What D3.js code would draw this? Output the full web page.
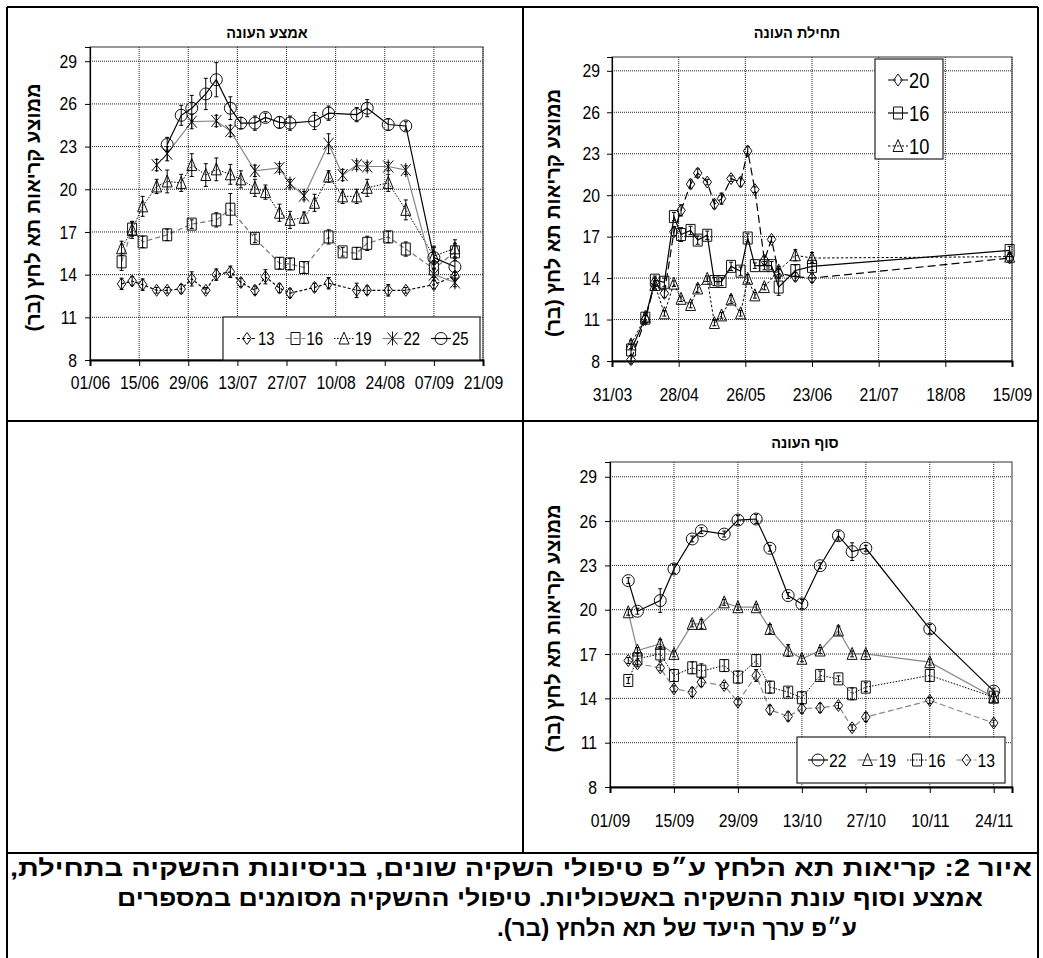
<!DOCTYPE html>
<html>
<head>
<meta charset="utf-8">
<script src="https://cdn.jsdelivr.net/npm/d3@7"></script>
<style>
  body { margin: 0; background: #fff; }
  svg text { font-family: "Liberation Sans", Arial, sans-serif; fill: #000; }
  svg text.heb { font-weight: bold; }
</style>
</head>
<body>
<svg id="fig" width="1043" height="958"></svg>
<script>
// ======= DATA =======
// each point: [date dd/mm, mean reading (bar), error]
const yTicks = [8, 11, 14, 17, 20, 23, 26, 29];

// mid season - "אמצע העונה"
const midTicks = ["01/06", "15/06", "29/06", "13/07", "27/07", "10/08", "24/08", "07/09", "21/09"];
const mid13 = [["10/06",13.35,0.4],["13/06",13.55,0.3],["16/06",13.3,0.4],["20/06",12.9,0.2],["23/06",12.9,0.2],["27/06",13.0,0.3],["30/06",13.7,0.5],["04/07",12.9,0.2],["07/07",14.0,0.4],["11/07",14.2,0.4],["14/07",13.45,0.3],["18/07",12.9,0.3],["21/07",13.85,0.5],["25/07",13.05,0.3],["28/07",12.7,0.3],["04/08",13.1,0.3],["08/08",13.4,0.4],["16/08",12.9,0.5],["19/08",12.9,0.3],["25/08",12.9,0.4],["30/08",12.9,0.2],["07/09",13.3,0.3],["13/09",13.9,0.3]];
const mid16 = [["10/06",14.9,0.6],["13/06",17.2,0.5],["16/06",16.3,0.4],["23/06",16.8,0.4],["30/06",17.55,0.3],["07/07",17.85,0.5],["11/07",18.6,1.1],["18/07",16.55,0.3],["25/07",14.8,0.4],["28/07",14.75,0.4],["01/08",14.5,0.4],["08/08",16.65,0.5],["12/08",15.6,0.3],["16/08",15.5,0.4],["19/08",16.2,0.5],["25/08",16.65,0.4],["30/08",15.8,0.5],["07/09",14.4,0.6],["13/09",15.6,0.6]];
const mid19 = [["10/06",15.85,0.5],["13/06",17.15,0.6],["16/06",18.8,0.7],["20/06",20.2,0.5],["23/06",20.55,0.8],["27/06",20.45,0.6],["30/06",21.7,0.8],["04/07",21.0,0.8],["07/07",21.4,0.8],["11/07",21.05,0.7],["14/07",20.7,0.6],["18/07",20.1,0.6],["21/07",19.8,0.5],["25/07",18.35,0.6],["28/07",17.85,0.6],["01/08",18.0,0.4],["04/08",19.05,0.6],["08/08",20.9,0.4],["12/08",19.5,0.5],["16/08",19.5,0.5],["19/08",20.1,0.6],["25/08",20.45,0.6],["30/08",18.55,0.7],["07/09",15.3,0.6],["13/09",15.85,0.6]];
const mid22 = [["20/06",21.7,0.4],["23/06",22.5,0.5],["30/06",24.75,0.5],["07/07",24.8,0.4],["11/07",24.1,0.4],["18/07",21.3,0.4],["25/07",21.5,0.3],["28/07",20.4,0.3],["01/08",19.55,0.3],["08/08",23.2,0.7],["12/08",21.0,0.4],["16/08",21.7,0.3],["19/08",21.6,0.3],["25/08",21.6,0.3],["30/08",21.35,0.3],["07/09",14.0,0.4],["13/09",13.45,0.3]];
const mid25 = [["23/06",23.15,0.5],["27/06",25.2,0.7],["30/06",25.7,0.9],["04/07",26.7,1.1],["07/07",27.7,1.2],["11/07",25.7,0.8],["14/07",24.65,0.4],["18/07",24.65,0.5],["21/07",25.05,0.3],["25/07",24.7,0.4],["28/07",24.65,0.5],["04/08",24.8,0.6],["08/08",25.35,0.5],["16/08",25.25,0.5],["19/08",25.7,0.6],["25/08",24.55,0.4],["30/08",24.45,0.3],["07/09",15.2,0.8],["13/09",14.55,0.6]];

// early season - "תחילת העונה"
const earlyTicks = ["31/03", "28/04", "26/05", "23/06", "21/07", "18/08", "15/09"];
const early20 = [["08/04",8.1,0.3],["14/04",11.0,0.3],["18/04",13.7,0.3],["22/04",12.9,0.3],["26/04",17.35,0.3],["29/04",18.9,0.4],["03/05",20.8,0.3],["06/05",21.6,0.3],["10/05",20.95,0.2],["13/05",19.35,0.3],["16/05",19.75,0.4],["20/05",21.2,0.2],["24/05",20.95,0.3],["27/05",23.2,0.3],["30/05",20.4,0.2],["03/06",15.3,0.3],["06/06",16.8,0.2],["09/06",14.35,0.3],["16/06",14.1,0.3],["23/06",14.0,0.3],["14/09",15.45,0.3]];
const early16 = [["08/04",8.8,0.4],["14/04",11.1,0.3],["18/04",13.85,0.3],["22/04",13.7,0.3],["26/04",18.45,0.3],["29/04",17.15,0.5],["03/05",17.45,0.3],["06/05",16.75,0.3],["10/05",17.1,0.3],["13/05",13.75,0.3],["16/05",13.75,0.3],["20/05",14.85,0.3],["24/05",14.5,0.3],["27/05",16.9,0.3],["30/05",14.9,0.2],["03/06",14.9,0.3],["06/06",14.9,0.3],["09/06",13.35,0.6],["16/06",14.55,0.4],["23/06",14.85,0.3],["14/09",16.0,0.3]];
const early10 = [["08/04",9.2,0.3],["14/04",11.2,0.3],["18/04",13.5,0.3],["22/04",11.45,0.2],["26/04",13.6,0.2],["29/04",12.5,0.2],["03/05",12.05,0.2],["06/05",13.25,0.3],["10/05",13.95,0.2],["13/05",10.75,0.2],["16/05",11.3,0.2],["20/05",12.45,0.3],["24/05",11.45,0.2],["27/05",13.95,0.3],["30/05",12.75,0.2],["03/06",13.35,0.2],["09/06",14.55,0.3],["16/06",15.65,0.4],["23/06",15.45,0.4],["14/09",15.55,0.3]];

// late season - "סוף העונה"
const lateTicks = ["01/09", "15/09", "29/09", "13/10", "27/10", "10/11", "24/11"];
const late22 = [["05/09",21.97,0.2],["07/09",19.9,0.2],["12/09",20.62,0.8],["15/09",22.76,0.3],["19/09",24.79,0.2],["21/09",25.35,0.2],["26/09",25.12,0.2],["29/09",26.07,0.3],["03/10",26.14,0.3],["06/10",24.16,0.2],["10/10",20.96,0.2],["13/10",20.39,0.3],["17/10",22.98,0.2],["21/10",25.01,0.3],["24/10",23.93,0.6],["27/10",24.16,0.2],["10/11",18.7,0.3],["24/11",14.49,0.2]];
const late19 = [["05/09",19.83,0.2],["07/09",17.24,0.2],["12/09",17.69,0.3],["15/09",17.01,0.2],["19/09",19.04,0.2],["21/09",19.04,0.3],["26/09",20.5,0.2],["29/09",20.17,0.2],["03/10",20.17,0.2],["06/10",18.7,0.3],["10/10",17.24,0.4],["13/10",16.68,0.2],["17/10",17.24,0.2],["21/10",18.59,0.3],["24/10",17.01,0.2],["27/10",17.01,0.2],["10/11",16.45,0.2],["24/11",14.08,0.2]];
const late16 = [["05/09",15.21,0.2],["07/09",16.68,0.4],["12/09",17.01,0.5],["15/09",15.55,0.4],["19/09",16.07,0.4],["21/09",15.84,0.5],["26/09",16.22,0.4],["29/09",15.44,0.4],["03/10",16.56,0.4],["06/10",14.76,0.4],["10/10",14.42,0.3],["13/10",14.04,0.4],["17/10",15.55,0.3],["21/10",15.32,0.2],["24/10",14.31,0.4],["27/10",14.76,0.3],["10/11",15.55,0.4],["24/11",14.08,0.3]];
const late13 = [["05/09",16.56,0.2],["07/09",16.34,0.2],["12/09",16.07,0.2],["15/09",14.65,0.2],["19/09",14.42,0.3],["21/09",15.1,0.3],["26/09",14.87,0.2],["29/09",13.75,0.2],["03/10",15.55,0.4],["06/10",13.23,0.3],["10/10",12.78,0.3],["13/10",13.3,0.3],["17/10",13.36,0.3],["21/10",13.52,0.2],["24/10",12.01,0.2],["27/10",12.73,0.3],["10/11",13.86,0.2],["24/11",12.33,0.2]];

const yTitle = "ממוצע קריאות תא לחץ (בר)";
const caption = [
  "איור 2: קריאות תא הלחץ ע״פ טיפולי השקיה שונים, בניסיונות ההשקיה בתחילת,",
  "אמצע וסוף עונת ההשקיה באשכוליות. טיפולי ההשקיה מסומנים במספרים",
  "ע״פ ערך היעד של תא הלחץ (בר)."
];

// ======= HELPERS =======
const parseDay = s => d3.timeParse("%d/%m/%Y")(s + "/2009");
const fmt = d3.timeFormat("%d/%m");
const svg = d3.select("#fig");
const NARROW = 0.83;   // no narrow font installed, squeeze the regular one

function narrow(sel) {
  sel.each(function () {
    const t = d3.select(this);
    const x0 = +(t.attr("x") || 0);
    t.attr("x", x0 / NARROW).attr("transform", `scale(${NARROW},1)`);
  });
}

// marker outlines, centred on 0,0
function markerPath(shape) {
  switch (shape) {
    case "diamond": return "M0,-6L4.3,0L0,6L-4.3,0Z";
    case "square": return "M-4.5,-6H4.5V6H-4.5Z";
    case "triangle": return "M0,-6.5L5,5.5L-5,5.5Z";
    case "circle": return "M-6,0A6,6 0 1,0 6,0A6,6 0 1,0 -6,0Z";
    case "star": return "M-5,-6L5,6M5,-6L-5,6M0,-7V7";
  }
}

function drawMarker(g, shape, cx, cy) {
  g.append("path")
    .attr("d", markerPath(shape))
    .attr("transform", `translate(${cx},${cy})`)
    .attr("fill", "none")
    .attr("stroke", "#111")
    .attr("stroke-width", 1);
}

// ======= PANEL =======
function drawPanel(p) {
  const g = svg.append("g");
  const x = d3.scaleTime()
    .domain([parseDay(p.x0), parseDay(p.x1)])
    .range([p.left, p.right]);
  const y = d3.scaleLinear().domain([8, 30]).range([p.bottom, p.top]);
  const tickDates = p.ticks.map(parseDay);

  // title
  g.append("text").attr("class", "heb")
    .attr("x", p.titleX).attr("y", p.titleY)
    .attr("text-anchor", "middle").attr("direction", "rtl")
    .attr("font-size", 14.5).text(p.title);

  // y title
  g.append("text").attr("class", "heb")
    .attr("transform", `translate(${p.yTitleX},${(p.top + p.bottom) / 2 + 4}) rotate(-90)`)
    .attr("text-anchor", "middle").attr("direction", "rtl")
    .attr("font-size", 20).text(yTitle);

  // gridlines
  const grid = g.append("g");
  grid.selectAll(".hg").data(yTicks.filter(v => v > 8)).enter().append("line")
    .attr("x1", p.left).attr("x2", p.right)
    .attr("y1", d => y(d)).attr("y2", d => y(d));
  grid.selectAll(".vg").data(tickDates.slice(1)).enter().append("line")
    .attr("y1", p.top).attr("y2", p.bottom)
    .attr("x1", d => x(d)).attr("x2", d => x(d));
  grid.selectAll("line")
    .attr("stroke", "#222").attr("stroke-width", 1)
    .attr("stroke-dasharray", "1,1");

  // plot frame
  g.append("rect")
    .attr("x", p.left).attr("y", p.top)
    .attr("width", p.right - p.left).attr("height", p.bottom - p.top)
    .attr("fill", "none").attr("stroke", "#333").attr("stroke-width", 1);

  // axes
  const yAxis = g.append("g")
    .attr("transform", `translate(${p.left},0)`)
    .call(d3.axisLeft(y).tickValues(yTicks).tickSize(5).tickPadding(p.yPad));
  const xAxis = g.append("g")
    .attr("transform", `translate(0,${p.bottom})`)
    .call(d3.axisBottom(x).tickValues(tickDates).tickFormat(fmt).tickSize(6).tickPadding(p.xPad));
  [yAxis, xAxis].forEach(a => {
    a.selectAll("text").attr("font-size", 19)
      .attr("font-family", "\"Liberation Sans\", Arial, sans-serif")
      .call(narrow);
    a.selectAll("line").attr("stroke", "#000");
  });
  yAxis.select(".domain").attr("stroke", "#000").attr("stroke-width", 1.2);
  xAxis.select(".domain").attr("stroke", "#000").attr("stroke-width", 2);

  // series
  p.series.forEach(s => {
    const pts = s.data.map(d => ({ t: parseDay(d[0]), v: d[1], e: d[2] }));
    const line = d3.line().x(d => x(d.t)).y(d => y(d.v));
    g.append("path").datum(pts)
      .attr("d", line)
      .attr("fill", "none")
      .attr("stroke", s.color)
      .attr("stroke-width", s.width || 1.2)
      .attr("stroke-dasharray", s.dash || null);
    const sg = g.append("g");
    pts.forEach(d => drawMarker(sg, s.shape, x(d.t), y(d.v)));
    // error bars
    const eg = g.append("g").attr("stroke", "#000").attr("stroke-width", 1);
    pts.forEach(d => {
      const cx = x(d.t), y0 = y(d.v - d.e), y1 = y(d.v + d.e);
      eg.append("line").attr("x1", cx).attr("x2", cx).attr("y1", y0).attr("y2", y1);
      eg.append("line").attr("x1", cx - 2).attr("x2", cx + 2).attr("y1", y0).attr("y2", y0);
      eg.append("line").attr("x1", cx - 2).attr("x2", cx + 2).attr("y1", y1).attr("y2", y1);
    });
  });

  // legend
  const L = p.legend;
  const lg = g.append("g");
  lg.append("rect")
    .attr("x", L.x).attr("y", L.y).attr("width", L.w).attr("height", L.h)
    .attr("fill", "#fff").attr("stroke", "#222").attr("stroke-width", 1.2);
  p.series.forEach(s => {
    const k = L.order.indexOf(s.name);
    const mx = L.vertical ? L.x + 23 : L.x + L.first + k * L.step;
    const my = L.vertical ? L.y + L.first + k * L.step : L.y + L.h / 2;
    lg.append("line")
      .attr("x1", mx - 10).attr("x2", mx + 10).attr("y1", my).attr("y2", my)
      .attr("stroke", s.color).attr("stroke-width", s.width || 1.2)
      .attr("stroke-dasharray", s.dash || null);
    drawMarker(lg, s.shape, mx, my);
    lg.append("text")
      .attr("x", mx + 11).attr("y", my).attr("dy", "0.36em")
      .attr("font-size", L.font).text(s.name)
      .call(narrow);
  });
}

// ======= FRAME =======
const frame = svg.append("g").attr("stroke", "#000").attr("stroke-width", 2).attr("fill", "none");
frame.append("line").attr("x1", 7).attr("x2", 7).attr("y1", 7).attr("y2", 958);
frame.append("line").attr("x1", 1038).attr("x2", 1038).attr("y1", 7).attr("y2", 958);
frame.append("line").attr("x1", 7).attr("x2", 1038).attr("y1", 7).attr("y2", 7);
frame.append("line").attr("x1", 7).attr("x2", 1038).attr("y1", 421).attr("y2", 421);
frame.append("line").attr("x1", 7).attr("x2", 1038).attr("y1", 853).attr("y2", 853);
frame.append("line").attr("x1", 523).attr("x2", 523).attr("y1", 7).attr("y2", 853);

// ======= PANELS =======
drawPanel({
  title: "אמצע העונה", titleX: 267, titleY: 38, yTitleX: 40,
  left: 90, right: 483, top: 47, bottom: 360, yPad: 8, xPad: 10,
  x0: "01/06", x1: "21/09", ticks: midTicks,
  series: [
    { name: "13", data: mid13, shape: "diamond", color: "#000", dash: "3,2" },
    { name: "16", data: mid16, shape: "square", color: "#777", dash: "5,3" },
    { name: "19", data: mid19, shape: "triangle", color: "#000", dash: "1.5,1.5", width: 1 },
    { name: "22", data: mid22, shape: "star", color: "#888" },
    { name: "25", data: mid25, shape: "circle", color: "#000" }
  ],
  legend: { x: 223, y: 317, w: 257, h: 43, vertical: false, first: 24, step: 48.5,
            order: ["13", "16", "19", "22", "25"], font: 18 }
});

drawPanel({
  title: "תחילת העונה", titleX: 797, titleY: 38, yTitleX: 560,
  left: 612, right: 1012, top: 57, bottom: 361, yPad: 7, xPad: 21,
  x0: "31/03", x1: "15/09", ticks: earlyTicks,
  series: [
    { name: "20", data: early20, shape: "diamond", color: "#000", dash: "8,4" },
    { name: "16", data: early16, shape: "square", color: "#000" },
    { name: "10", data: early10, shape: "triangle", color: "#000", dash: "2.5,2", width: 1 }
  ],
  legend: { x: 875, y: 59, w: 68, h: 100, vertical: true, first: 21, step: 33,
            order: ["20", "16", "10"], font: 22 }
});

drawPanel({
  title: "סוף העונה", titleX: 805, titleY: 448, yTitleX: 560,
  left: 610, right: 1012, top: 462, bottom: 787, yPad: 8, xPad: 21,
  x0: "01/09", x1: "28/11", ticks: lateTicks,
  series: [
    { name: "22", data: late22, shape: "circle", color: "#000" },
    { name: "19", data: late19, shape: "triangle", color: "#888" },
    { name: "16", data: late16, shape: "square", color: "#000", dash: "1.5,1.5", width: 1 },
    { name: "13", data: late13, shape: "diamond", color: "#888", dash: "6,3" }
  ],
  legend: { x: 797, y: 737, w: 208, h: 46, vertical: false, first: 21, step: 49.5,
            order: ["22", "19", "16", "13"], font: 19 }
});

// ======= CAPTION =======
// right edge and width of each line
const capRight = [1032, 983, 857];
const capWidth = [1022, 866, 360];
svg.selectAll(".cap").data(caption).enter().append("text")
  .attr("class", "heb cap")
  .attr("x", (d, i) => capRight[i])
  .attr("y", (d, i) => 876 + i * 30)
  .attr("direction", "rtl")
  .attr("text-anchor", "start")
  .attr("font-size", 23)
  .attr("textLength", (d, i) => capWidth[i])
  .attr("lengthAdjust", "spacingAndGlyphs")
  .text(d => d);
</script>
</body>
</html>
